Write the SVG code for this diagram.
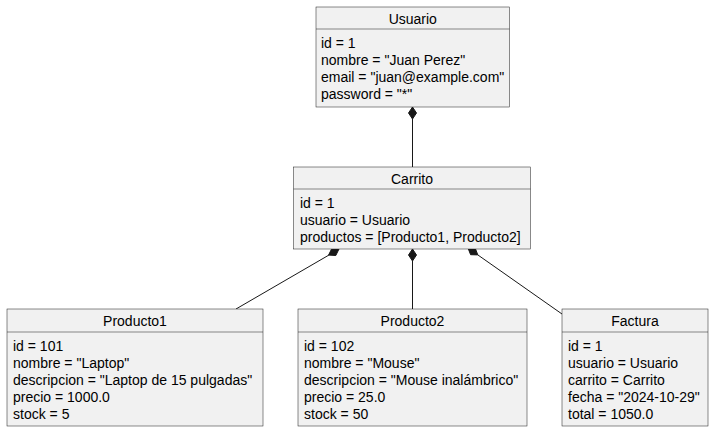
<svg xmlns="http://www.w3.org/2000/svg" width="714" height="432" viewBox="0 0 714 432">
<style>
.box{fill:#F1F1F1;stroke:#181818;stroke-width:0.5}
.sep{stroke:#181818;stroke-width:0.5}
.t{font-family:"Liberation Sans",Arial,sans-serif;font-size:14px;fill:#000000}
.c{text-anchor:middle}
.ln{stroke:#181818;stroke-width:1;fill:none}
.dm{fill:#181818;stroke:#181818;stroke-width:1}
</style>
<rect width="714" height="432" fill="#FFFFFF"/>
<g id="connectors">
<line class="ln" x1="412.5" y1="119" x2="412.5" y2="167"/>
<polygon class="dm" points="412.5,107 416.5,113 412.5,119 408.5,113"/>
<line class="ln" x1="329" y1="255" x2="236" y2="309"/>
<polygon class="dm" points="339,249 335.8,255.5 328.6,255.1 331.8,248.5"/>
<line class="ln" x1="412.5" y1="261" x2="412.5" y2="309"/>
<polygon class="dm" points="412.5,249 416.5,255 412.5,261 408.5,255"/>
<line class="ln" x1="477.8" y1="254.9" x2="562" y2="314"/>
<polygon class="dm" points="468,248 475.2,248.1 477.8,254.9 470.6,254.7"/>
</g>
<g id="Usuario">
<rect class="box" x="316" y="7" width="193.5" height="100"/>
<line class="sep" x1="316" y1="29" x2="509.5" y2="29"/>
<text class="t c" x="412.75" y="23.5">Usuario</text>
<text class="t" x="321" y="47.7">id = 1</text>
<text class="t" x="321" y="64.7">nombre = "Juan Perez"</text>
<text class="t" x="321" y="81.7">email = "juan@example.com"</text>
<text class="t" x="321" y="98.7">password = "*"</text>
</g>
<g id="Carrito">
<rect class="box" x="293.5" y="167" width="237" height="82"/>
<line class="sep" x1="293.5" y1="189" x2="530.5" y2="189"/>
<text class="t c" x="412" y="183.5">Carrito</text>
<text class="t" x="300" y="207.7">id = 1</text>
<text class="t" x="300" y="224.7">usuario = Usuario</text>
<text class="t" x="300" y="241.7">productos = [Producto1, Producto2]</text>
</g>
<g id="Producto1">
<rect class="box" x="7" y="309" width="256" height="117"/>
<line class="sep" x1="7" y1="332" x2="263" y2="332"/>
<text class="t c" x="135" y="325.5">Producto1</text>
<text class="t" x="13" y="350.7">id = 101</text>
<text class="t" x="13" y="367.7">nombre = "Laptop"</text>
<text class="t" x="13" y="384.7">descripcion = "Laptop de 15 pulgadas"</text>
<text class="t" x="13" y="401.7">precio = 1000.0</text>
<text class="t" x="13" y="418.7">stock = 5</text>
</g>
<g id="Producto2">
<rect class="box" x="298" y="309" width="229" height="117"/>
<line class="sep" x1="298" y1="332" x2="527" y2="332"/>
<text class="t c" x="412.5" y="325.5">Producto2</text>
<text class="t" x="304" y="350.7">id = 102</text>
<text class="t" x="304" y="367.7">nombre = "Mouse"</text>
<text class="t" x="304" y="384.7">descripcion = "Mouse inalámbrico"</text>
<text class="t" x="304" y="401.7">precio = 25.0</text>
<text class="t" x="304" y="418.7">stock = 50</text>
</g>
<g id="Factura">
<rect class="box" x="562" y="309" width="146" height="117"/>
<line class="sep" x1="562" y1="332" x2="708" y2="332"/>
<text class="t c" x="635" y="325.5">Factura</text>
<text class="t" x="568" y="350.7">id = 1</text>
<text class="t" x="568" y="367.7">usuario = Usuario</text>
<text class="t" x="568" y="384.7">carrito = Carrito</text>
<text class="t" x="568" y="401.7">fecha = "2024-10-29"</text>
<text class="t" x="568" y="418.7">total = 1050.0</text>
</g>
</svg>
